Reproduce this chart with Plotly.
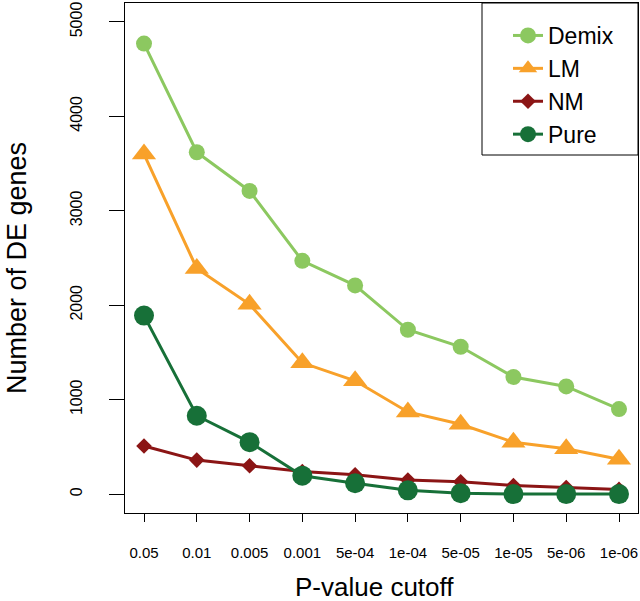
import plotly.graph_objects as go

cutoffs = ["0.05", "0.01", "0.005", "0.001", "5e-04", "1e-04", "5e-05", "1e-05", "5e-06", "1e-06"]
demix = [4770, 3620, 3210, 2470, 2210, 1740, 1560, 1240, 1140, 900]
lm = [3600, 2390, 2010, 1390, 1200, 870, 740, 550, 480, 370]
nm = [510, 360, 300, 240, 205, 150, 130, 90, 70, 50]
pure = [1890, 830, 550, 195, 115, 40, 10, 0, 0, 0]

series = [
    ("Demix", demix, "#8cc860", "circle", 16),
    ("LM", lm, "#f8a12a", "triangle-up", 21),
    ("NM", nm, "#8b1515", "diamond", 12),
    ("Pure", pure, "#177038", "circle", 20),
]

FONT = "Liberation Sans, Arial, Helvetica, sans-serif"
W, H = 640, 601
L, R, T, B = 125, 2, 3, 88
PW, PH = W - L - R, H - T - B

fig = go.Figure()
for name, vals, col, sym, sz in series:
    fig.add_trace(go.Scatter(
        x=cutoffs, y=vals, name=name, mode="lines+markers",
        line=dict(color=col, width=3),
        marker=dict(color=col, symbol=sym, size=sz, line=dict(width=0)),
    ))

fig.update_layout(
    width=W, height=H,
    margin=dict(l=L, r=R, t=T, b=B),
    paper_bgcolor="white", plot_bgcolor="white",
    font=dict(family=FONT, color="black"),
    showlegend=True,
    legend=dict(x=(508 - L) / PW, y=1 - (14 - T) / PH, xanchor="left", yanchor="top",
                bgcolor="rgba(0,0,0,0)", borderwidth=0,
                font=dict(size=23, family=FONT), tracegroupgap=0),
    xaxis=dict(type="category", range=[-0.36, 9.36], showgrid=False, zeroline=False,
               showline=True, linecolor="black", linewidth=1, mirror=True,
               ticks="outside", ticklen=8, tickcolor="black",
               tickfont=dict(size=15, family=FONT), ticklabelstandoff=18),
    yaxis=dict(range=[-200, 5200], tickvals=[0, 1000, 2000, 3000, 4000, 5000],
               showgrid=False, zeroline=False,
               showline=True, linecolor="black", linewidth=1, mirror=True,
               ticks="outside", ticklen=15, tickcolor="black", tickangle=-90,
               tickfont=dict(size=16, family=FONT), ticklabelstandoff=21),
    shapes=[dict(type="rect", xref="paper", yref="paper",
                 x0=(482 - L) / PW, x1=1.0, y0=1 - (155 - T) / PH, y1=1.0,
                 line=dict(color="black", width=1), fillcolor="rgba(0,0,0,0)")],
    annotations=[
        dict(text="Number of DE genes", xref="paper", yref="paper",
             x=(17 - L) / PW, y=1 - (268 - T) / PH, textangle=-90, showarrow=False,
             font=dict(size=27, family=FONT), xanchor="center", yanchor="middle"),
        dict(text="P-value cutoff", xref="paper", yref="paper",
             x=(374 - L) / PW, y=-(587 - T - PH) / PH, showarrow=False,
             font=dict(size=26, family=FONT), xanchor="center", yanchor="middle"),
    ],
)

fig.write_html("out.html", config={"displayModeBar": False},
               post_script="document.body.style.margin='0';")
